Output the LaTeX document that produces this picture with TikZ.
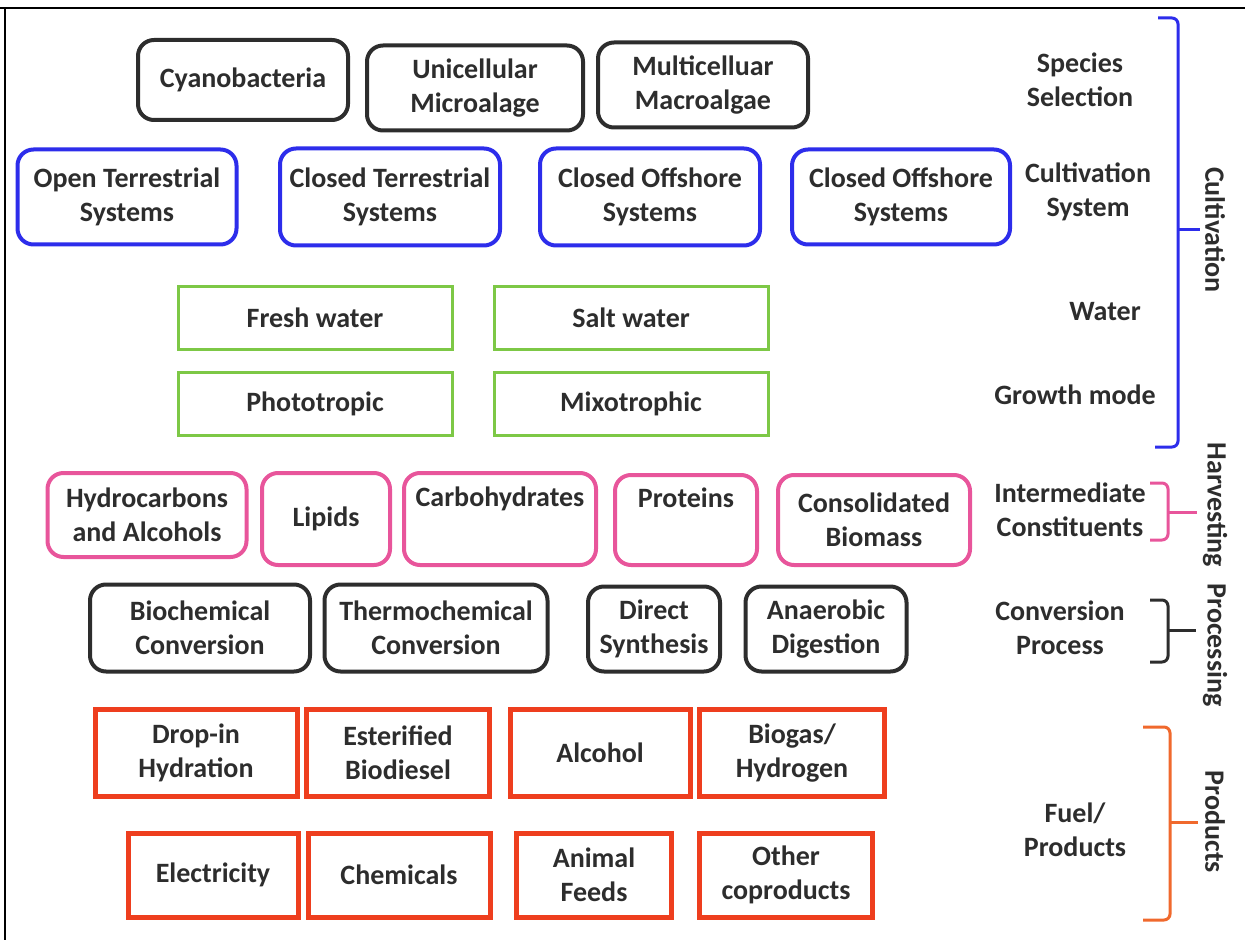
\documentclass[tikz,border=0pt]{standalone}
\usepackage{fontspec}
\setmainfont{Carlito}
\definecolor{boxblue}{RGB}{45,45,235}
\definecolor{boxgreen}{RGB}{125,200,70}
\definecolor{boxpink}{RGB}{232,85,155}
\definecolor{boxred}{RGB}{238,62,30}
\definecolor{brorange}{RGB}{240,105,45}
\definecolor{ink}{RGB}{45,45,45}
\begin{document}
\begin{tikzpicture}[x=0.5pt,y=-0.5pt,
  every node/.style={align=center,inner sep=0pt,text=ink,
    font=\bfseries\fontsize{14}{17}\selectfont},
  wh/.style 2 args={minimum width=#1*0.5pt,minimum height=#2*0.5pt},
  blackbox/.style={draw=ink,line width=2pt,rounded corners=8pt},
  bluebox/.style={draw=boxblue,line width=2pt,rounded corners=8pt},
  greenbox/.style={draw=boxgreen,line width=1.5pt},
  pinkbox/.style={draw=boxpink,line width=2pt,rounded corners=8pt},
  redbox/.style={draw=boxred,line width=2.5pt},
  bracket/.style={line width=1.5pt,rounded corners=3pt}]
  \useasboundingbox (0,0) rectangle (1245,940);
  % frame
  \draw[line width=1pt] (0,8) -- (1245,8);
  \draw[line width=1pt] (5,8) -- (5,940);
  % species
  \node (cyano) [blackbox,wh={210}{80}] at (243,80) {Cyanobacteria};
  \node (unicell) [blackbox,wh={216}{85}] at (475,88) {Unicellular\\Microalage};
  \node (multicell) [blackbox,wh={210}{85}] at (703,85) {Multicelluar\\Macroalgae};
  % cultivation systems
  \node (openterr) [bluebox,wh={219}{95}] at (127,197) {Open Terrestrial\\Systems};
  \node (closedterr) [bluebox,wh={220}{97}] at (390,197) {Closed Terrestrial\\Systems};
  \node (offshorea) [bluebox,wh={220}{97}] at (650,197) {Closed Offshore\\Systems};
  \node (offshoreb) [bluebox,wh={218}{95}] at (901,197) {Closed Offshore\\Systems};
  % water and growth mode
  \node (fresh) [greenbox,wh={274}{63}] at (315,318) {Fresh water};
  \node (salt) [greenbox,wh={274}{63}] at (631,318) {Salt water};
  \node (photo) [greenbox,wh={274}{63}] at (315,404) {Phototropic};
  \node (mixo) [greenbox,wh={274}{63}] at (631,404) {Mixotrophic};
  % intermediate constituents
  \node (hydro) [pinkbox,wh={199}{84}] at (147,515) {Hydrocarbons\\and Alcohols};
  \node (lipids) [pinkbox,wh={128}{92}] at (326,519) {Lipids};
  \node (carbo) [pinkbox,wh={192}{92}] at (500,519) {Carbohydrates\\\strut};
  \node (proteins) [pinkbox,wh={142}{90}] at (686,520) {Proteins\\\strut};
  \node (consol) [pinkbox,wh={192}{90}] at (874,520) {Consolidated\\Biomass};
  % conversion
  \node (biochem) [blackbox,wh={220}{87}] at (200,628) {Biochemical\\Conversion};
  \node (thermo) [blackbox,wh={223}{87}] at (436,628) {Thermochemical\\Conversion};
  \node (direct) [blackbox,wh={132}{85}] at (654,629) {Direct\\Synthesis};
  \node (anaer) [blackbox,wh={161}{85}] at (826,629) {Anaerobic\\Digestion};
  % products
  \node (dropin) [redbox,wh={202}{87}] at (196,753) {Drop-in\\Hydration};
  \node (ester) [redbox,wh={183}{87}] at (398,753) {Esterified\\Biodiesel};
  \node (alcohol) [redbox,wh={180}{87}] at (600,753) {Alcohol};
  \node (biogas) [redbox,wh={185}{87}] at (792,753) {Biogas/\\Hydrogen};
  \node (elec) [redbox,wh={170}{84}] at (213,875) {Electricity};
  \node (chem) [redbox,wh={182}{84}] at (399,875) {Chemicals};
  \node (feeds) [redbox,wh={155}{84}] at (594,875) {Animal\\Feeds};
  \node (other) [redbox,wh={173}{84}] at (786,875) {Other\\coproducts};
  % stage labels
  \node (species) at (1080,80) {Species\\Selection};
  \node (cultsys) at (1088,192) {Cultivation\\System};
  \node (water) at (1105,312) {Water};
  \node (growth) at (1075,395) {Growth mode};
  \node (intermed) at (1070,510) {Intermediate\\Constituents};
  \node (convproc) at (1060,628) {Conversion\\Process};
  \node (fuel) at (1075,830) {Fuel/\\Products};
  % brackets
  \draw[bracket,draw=boxblue] (1158,18) -- (1178,18) -- (1178,447) -- (1155,447);
  \draw[bracket,draw=boxblue] (1178,230) -- (1200,230);
  \node (cultiv) [rotate=-90] at (1215,230) {Cultivation};
  \draw[bracket,draw=boxpink] (1150,483) -- (1168,483) -- (1168,540) -- (1150,540);
  \draw[bracket,draw=boxpink] (1168,512) -- (1197,512);
  \node (harvest) [rotate=-90] at (1215,505) {Harvesting};
  \draw[bracket,draw=ink] (1150,600) -- (1168,600) -- (1168,662) -- (1150,662);
  \draw[bracket,draw=ink] (1168,630) -- (1196,630);
  \node (process) [rotate=-90] at (1215,645) {Processing};
  \draw[bracket,draw=brorange] (1143,727) -- (1170,727) -- (1170,920) -- (1143,920);
  \draw[bracket,draw=brorange] (1170,822) -- (1198,822);
  \node (products) [rotate=-90] at (1215,822) {Products};
\end{tikzpicture}
\end{document}
